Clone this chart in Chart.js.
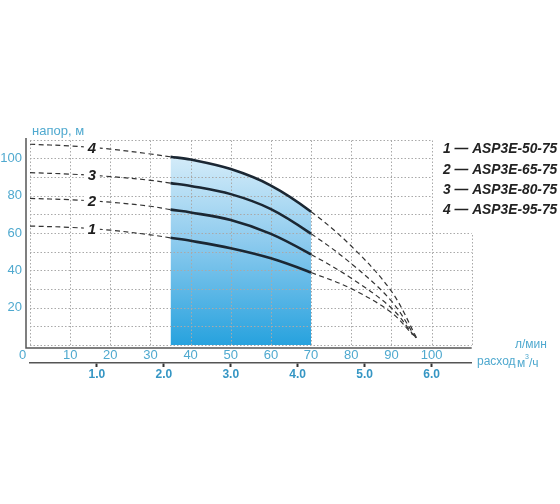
<!DOCTYPE html>
<html>
<head>
<meta charset="utf-8">
<script src="https://cdn.jsdelivr.net/npm/chart.js@4"></script>
<style>
  html, body { margin: 0; padding: 0; background: #fff; }
  #wrap { width: 560px; height: 504px; }
</style>
</head>
<body>
<div id="wrap"><canvas id="pumpChart" width="560" height="504"></canvas></div>
<script>
// === Data ===
// flow in l/min, head in m
const flow = [0, 10, 20, 30, 35, 40, 50, 60, 70, 80, 90];
const head1 = [63.7, 63.0, 61.5, 59.0, 57.4, 55.8, 51.8, 46.4, 38.8, 30.2, 17.4];
const head2 = [78.5, 77.8, 76.5, 74.3, 72.5, 71.0, 66.9, 59.5, 48.5, 35.8, 19.8];
const head3 = [92.3, 91.5, 90.2, 88.2, 86.7, 85.2, 80.8, 72.8, 59.6, 43.6, 23.6];
const head4 = [107.5, 106.6, 104.9, 102.3, 100.8, 99.3, 94.2, 85.4, 71.4, 53.0, 28.8];
// where each curve ends near zero head
const endFlow = [95.3, 95.8, 96.2, 96.6];
const endHead = [5.5, 4.5, 3.5, 2.5];

const curveNames = ["1", "2", "3", "4"];
const models = ["ASP3E-50-75", "ASP3E-65-75", "ASP3E-80-75", "ASP3E-95-75"];

// working range of the pump (solid part + blue area)
const workMin = 35;
const workMax = 70;

const flowMax = 110;    // l/min
const headMax = 110;    // m
const LPM_PER_M3H = 1000 / 60;

const TEAL = "#4fa9cf";
const TEAL_DARK = "#3596c4";
const FONT = "'Liberation Sans', Arial, sans-serif";

// === Helpers ===

function curvePoints(heads, i) {
  const pts = flow.map((f, k) => ({ x: f, y: heads[k] }));
  pts.push({ x: endFlow[i], y: endHead[i] });
  return pts;
}

function inWork(ctx) {
  return ctx.p0.parsed.x >= workMin - 0.01 && ctx.p1.parsed.x <= workMax + 0.01;
}

function fillGradient(ctx) {
  const chart = ctx.chart;
  if (!chart.chartArea) return "#8ccbee";
  const y = chart.scales.y;
  const g = chart.ctx.createLinearGradient(0, y.getPixelForValue(101), 0, y.getPixelForValue(0));
  g.addColorStop(0, "#d4ecf9");
  g.addColorStop(0.45, "#8ecbee");
  g.addColorStop(1, "#27a2de");
  return g;
}

const heads = [head1, head2, head3, head4];

const curveSets = heads.map((h, i) => ({
  label: curveNames[i] + " — " + models[i],
  data: curvePoints(h, i),
  borderColor: "#1b2733",
  borderWidth: 2.6,
  pointRadius: 0,
  fill: false,
  tension: 0.35,
  segment: {
    borderDash: ctx => inWork(ctx) ? undefined : [5, 3.5],
    borderWidth: ctx => inWork(ctx) ? 2.6 : 1.2,
    borderColor: ctx => inWork(ctx) ? "#1b2733" : "#333333"
  }
}));

// blue area under curve 4 inside the working range
const workPoints = flow
  .map((f, k) => ({ x: f, y: head4[k] }))
  .filter(p => p.x >= workMin && p.x <= workMax);

const FILL_INDEX = curveSets.length;

const fillSet = {
  label: "range",
  data: workPoints,
  borderWidth: 0,
  pointRadius: 0,
  fill: "origin",
  backgroundColor: fillGradient,
  tension: 0.35,
  order: 10
};

// === Extra drawing: grid, labels, legend ===

function drawGrid(chart) {
  const { ctx } = chart;
  const x = chart.scales.x;
  const y = chart.scales.y;
  ctx.save();
  ctx.strokeStyle = "#a9a9a9";
  ctx.lineWidth = 1;
  ctx.setLineDash([1.5, 2]);
  for (let v = 0; v <= headMax; v += 10) {
    const py = Math.round(y.getPixelForValue(v)) + 0.5;
    ctx.beginPath();
    ctx.moveTo(x.getPixelForValue(0), py);
    ctx.lineTo(x.getPixelForValue(v <= 60 ? 110 : 100), py);
    ctx.stroke();
  }
  for (let v = 0; v <= flowMax; v += 10) {
    const px = Math.round(x.getPixelForValue(v)) + 0.5;
    ctx.beginPath();
    ctx.moveTo(px, y.getPixelForValue(0));
    ctx.lineTo(px, y.getPixelForValue(v <= 100 ? 110 : 60));
    ctx.stroke();
  }
  ctx.restore();
}

function drawDecor(chart) {
  const { ctx, chartArea } = chart;
  const x = chart.scales.x;
  const y = chart.scales.y;
  ctx.save();

  // axis lines
  ctx.strokeStyle = "#555";
  ctx.lineWidth = 1.5;
  ctx.beginPath();
  ctx.moveTo(chartArea.left - 4, chartArea.top - 1.5);
  ctx.lineTo(chartArea.left - 4, chartArea.bottom + 3);
  ctx.lineTo(chartArea.right, chartArea.bottom + 3);
  ctx.stroke();

  // curve numbers on the dashed lines
  ctx.font = "italic bold 15px " + FONT;
  ctx.textAlign = "center";
  ctx.textBaseline = "middle";
  heads.forEach((h, i) => {
    const px = x.getPixelForValue(15.4);
    const py = y.getPixelForValue((h[1] + h[2]) / 2);
    ctx.fillStyle = "#fff";
    ctx.fillRect(px - 8, py - 8, 16, 16);
    ctx.fillStyle = "#1e1e1e";
    ctx.fillText(curveNames[i], px, py + 1);
  });

  // legend
  ctx.textAlign = "left";
  ctx.font = "italic bold 13.8px " + FONT;
  ctx.fillStyle = "#222";
  models.forEach((m, i) => {
    ctx.fillText(curveNames[i] + " — " + m, 443, 149.5 + i * 20.3);
  });

  // axis titles
  ctx.fillStyle = TEAL;
  ctx.font = "13px " + FONT;
  ctx.fillText("напор, м", 32, 131.5);
  ctx.fillText("0", 19, 355.5);
  ctx.font = "12px " + FONT;
  ctx.fillText("расход", 477, 362);
  ctx.fillText("л/мин", 515, 345);
  ctx.fillText("м", 517, 363.5);
  ctx.fillText("/ч", 529, 363.5);
  ctx.font = "7px " + FONT;
  ctx.fillText("3", 525, 357);

  ctx.restore();
}

const decorPlugin = {
  id: "decor",
  afterDatasetDraw(chart, args) {
    if (args.index === FILL_INDEX) drawGrid(chart);
  },
  afterDatasetsDraw(chart) {
    drawDecor(chart);
  }
};

// === Chart ===

function renderChart() {
  const canvas = document.getElementById("pumpChart");
  return new Chart(canvas, {
    type: "line",
    data: { datasets: [...curveSets, fillSet] },
    options: {
      responsive: false,
      animation: false,
      layout: { padding: { left: 0, right: 88.3, top: 139.6, bottom: 119 } },
      plugins: { legend: { display: false }, tooltip: { enabled: false } },
      scales: {
        x: {
          type: "linear",
          min: 0,
          max: flowMax,
          weight: 0,
          grid: { display: false, drawTicks: false },
          border: { display: false },
          ticks: {
            stepSize: 10,
            padding: 3,
            color: TEAL,
            font: { family: FONT, size: 13 },
            maxRotation: 0
          },
          afterBuildTicks: s => { s.ticks = s.ticks.filter(t => t.value > 0 && t.value <= 100); },
          afterFit: s => { s.height = 18; }
        },
        x2: {
          type: "linear",
          position: "bottom",
          min: 0,
          max: flowMax / LPM_PER_M3H,
          weight: 1,
          grid: {
            drawOnChartArea: false,
            drawTicks: true,
            tickLength: 4,
            tickWidth: 2,
            tickColor: "#333"
          },
          border: { display: true, color: "#555", width: 1.5 },
          ticks: {
            stepSize: 1,
            padding: 0,
            color: TEAL_DARK,
            font: { family: FONT, size: 12, weight: "bold" },
            callback: v => v.toFixed(1),
            maxRotation: 0
          },
          afterBuildTicks: s => { s.ticks = s.ticks.filter(t => t.value >= 1 && t.value <= 6); },
          afterFit: s => { s.height = 22; }
        },
        y: {
          type: "linear",
          min: 0,
          max: headMax,
          grid: { display: false, drawTicks: false },
          border: { display: false },
          ticks: {
            stepSize: 20,
            padding: 8,
            color: TEAL,
            font: { family: FONT, size: 13 }
          },
          afterBuildTicks: s => { s.ticks = s.ticks.filter(t => t.value > 0 && t.value <= 100); },
          afterFit: s => { s.width = 30; }
        }
      }
    },
    plugins: [decorPlugin]
  });
}

document.addEventListener("DOMContentLoaded", () => {
  renderChart();
});
</script>
</body>
</html>
